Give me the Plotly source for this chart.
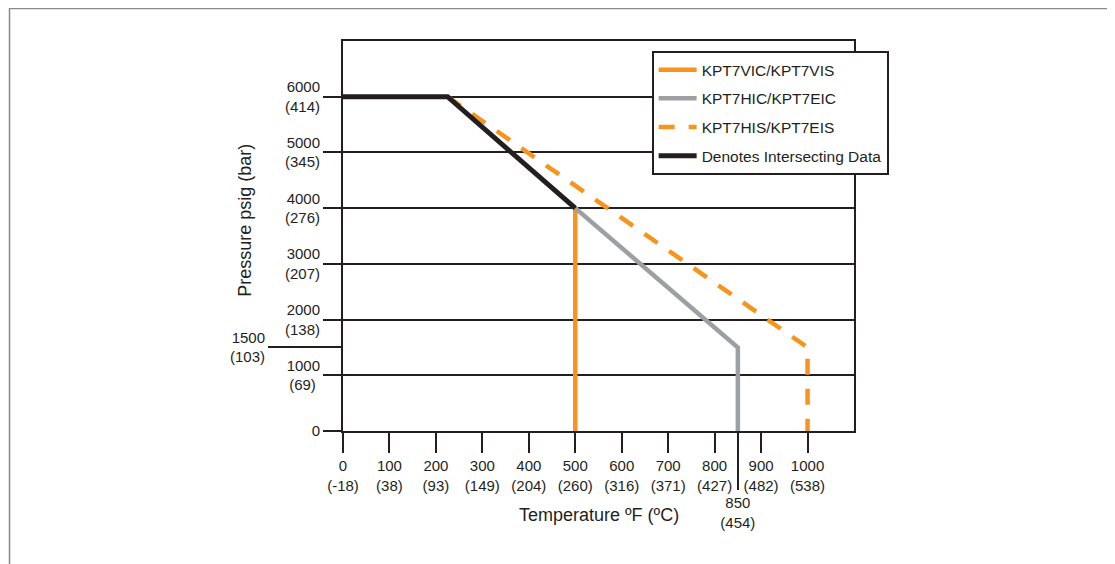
import plotly.graph_objects as go

# ---- data ----
vic_temp = [500, 500]
vic_press = [4000, 0]
hic_temp = [500, 850, 850]
hic_press = [4000, 1500, 0]
his_temp = [225, 1000, 1000]
his_press = [6000, 1500, 0]
common_temp = [0, 225, 500]
common_press = [6000, 6000, 4000]

x_ticks = [0, 100, 200, 300, 400, 500, 600, 700, 800, 900, 1000]
x_labels = ["0<br>(-18)", "100<br>(38)", "200<br>(93)", "300<br>(149)", "400<br>(204)",
            "500<br>(260)", "600<br>(316)", "700<br>(371)", "800<br>(427)", "900<br>(482)",
            "1000<br>(538)"]
x_extra_tick = [850]
x_extra_label = ["850<br>(454)"]
y_ticks = [0, 1000, 2000, 3000, 4000, 5000, 6000]
y_labels = ["0", "1000<br>(69)\u00a0", "2000<br>(138)", "3000<br>(207)", "4000<br>(276)",
            "5000<br>(345)", "6000<br>(414)"]
y_extra_tick = [1500]
y_extra_label = ["1500<br>(103)"]

ORANGE = "#F7941D"
GREY = "#9D9FA2"
INK = "#231F20"
FONT = "Liberation Sans, Arial, sans-serif"
TICK_SIZE = 15

fig = go.Figure()
fig.add_trace(go.Scatter(x=vic_temp, y=vic_press, mode="lines", name="KPT7VIC/KPT7VIS",
                         legendgroup="a", line=dict(color=ORANGE, width=4.5)))
fig.add_trace(go.Scatter(x=hic_temp, y=hic_press, mode="lines", name="KPT7HIC/KPT7EIC",
                         legendgroup="b", line=dict(color=GREY, width=4.5)))
fig.add_trace(go.Scatter(x=his_temp, y=his_press, mode="lines", name="KPT7HIS/KPT7EIS",
                         legendgroup="c", line=dict(color=ORANGE, width=4.5, dash="16px,14px")))
fig.add_trace(go.Scatter(x=common_temp, y=common_press, mode="lines", name="Denotes Intersecting Data",
                         legendgroup="d", line=dict(color=INK, width=5)))
# invisible trace to activate the secondary axes
fig.add_trace(go.Scatter(x=[None], y=[None], xaxis="x2", yaxis="y2", showlegend=False,
                         hoverinfo="skip"))

fig.update_layout(
    width=1107, height=556,
    margin=dict(l=335, r=261, t=33, b=133),
    paper_bgcolor="white", plot_bgcolor="white",
    font=dict(family=FONT, color=INK, size=TICK_SIZE),
    showlegend=True,
    legend=dict(x=0.604, y=0.974, xanchor="left", yanchor="top",
                bgcolor="white", bordercolor=INK, borderwidth=2,
                font=dict(size=15.5, color=INK, family=FONT),
                tracegroupgap=5.5, traceorder="grouped", itemwidth=38),
    xaxis=dict(range=[0, 1100], tickmode="array", tickvals=x_ticks, ticktext=x_labels,
               ticks="outside", ticklen=20, tickwidth=2, tickcolor=INK,
               showline=True, linecolor=INK, linewidth=2, mirror=True,
               showgrid=False, zeroline=False, tickfont=dict(size=TICK_SIZE)),
    xaxis2=dict(range=[0, 1100], overlaying="x", side="bottom", anchor="y",
                tickmode="array", tickvals=x_extra_tick, ticktext=x_extra_label,
                ticks="outside", ticklen=58, tickwidth=2, tickcolor=INK,
                showline=False, showgrid=False, zeroline=False, tickfont=dict(size=TICK_SIZE)),
    yaxis=dict(range=[0, 7000], tickmode="array", tickvals=y_ticks, ticktext=y_labels,
               ticks="outside", ticklen=18, tickwidth=2, tickcolor=INK,
               showline=True, linecolor=INK, linewidth=2, mirror=True,
               showgrid=True, gridcolor=INK, gridwidth=2, zeroline=False,
               tickfont=dict(size=TICK_SIZE)),
    yaxis2=dict(range=[0, 7000], overlaying="y", side="left", anchor="x",
                tickmode="array", tickvals=y_extra_tick, ticktext=y_extra_label,
                ticks="outside", ticklen=74, tickwidth=2, tickcolor=INK,
                showline=False, showgrid=False, zeroline=False, tickfont=dict(size=TICK_SIZE)),
)

fig.add_annotation(text="Pressure psig (bar)", xref="paper", yref="paper",
                   x=-0.1917, y=0.539, xanchor="center", yanchor="middle",
                   showarrow=False, textangle=-90,
                   font=dict(size=18, color=INK, family=FONT))
fig.add_annotation(text="Temperature ºF (ºC)", xref="paper", yref="paper",
                   x=0.5, y=-0.2147, xanchor="center", yanchor="middle", showarrow=False,
                   font=dict(size=18, color=INK, family=FONT))

# outer frame of the figure
fig.add_shape(type="rect", xref="paper", yref="paper",
              x0=-0.6526, x1=1.5068, y0=-0.4, y1=1.0833,
              line=dict(color="#8A8A8A", width=1.5), layer="below")

fig.write_html("out.html")
